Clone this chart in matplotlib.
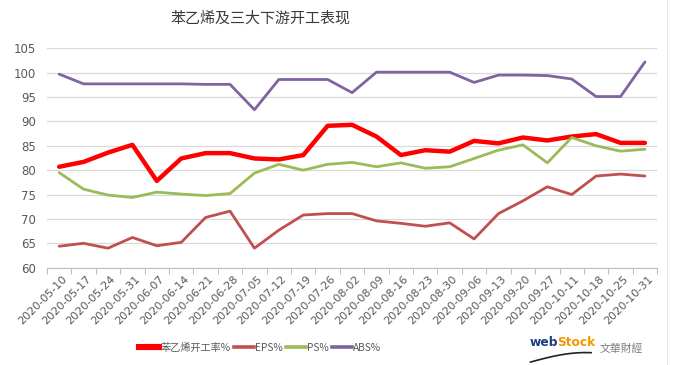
import matplotlib
matplotlib.use("Agg")
import matplotlib.pyplot as plt
from matplotlib.lines import Line2D
import numpy as np

plt.rcParams['font.family'] = ['Noto Sans CJK SC', 'DejaVu Sans']

dates = ["2020-05-10", "2020-05-17", "2020-05-24", "2020-05-31", "2020-06-07",
         "2020-06-14", "2020-06-21", "2020-06-28", "2020-07-05", "2020-07-12",
         "2020-07-19", "2020-07-26", "2020-08-02", "2020-08-09", "2020-08-16",
         "2020-08-23", "2020-08-30", "2020-09-06", "2020-09-13", "2020-09-20",
         "2020-09-27", "2020-10-11", "2020-10-18", "2020-10-25", "2020-10-31"]

styrene = [80.7, 81.7, 83.6, 85.2, 77.8, 82.4, 83.5, 83.5, 82.4, 82.2, 83.1, 89.1,
           89.3, 86.9, 83.1, 84.1, 83.8, 86.0, 85.5, 86.7, 86.1, 86.9, 87.4, 85.6, 85.6]
eps = [64.4, 65.0, 64.0, 66.2, 64.5, 65.2, 70.3, 71.6, 64.0, 67.7, 70.8, 71.1,
       71.1, 69.6, 69.1, 68.5, 69.2, 65.9, 71.1, 73.7, 76.6, 75.0, 78.8, 79.2, 78.8]
ps = [79.5, 76.1, 74.9, 74.4, 75.5, 75.1, 74.8, 75.2, 79.4, 81.2, 80.0, 81.2,
      81.6, 80.7, 81.5, 80.4, 80.7, 82.4, 84.1, 85.2, 81.5, 86.7, 85.0, 83.9, 84.3]
abs_ = [99.7, 97.7, 97.7, 97.7, 97.7, 97.7, 97.6, 97.6, 92.4, 98.6, 98.6, 98.6,
        95.9, 100.1, 100.1, 100.1, 100.1, 98.0, 99.5, 99.5, 99.4, 98.7, 95.1, 95.1, 102.2]

series_names = ["苯乙烯开工率%", "EPS%", "PS%", "ABS%"]
colors = ["#FF0000", "#C0504D", "#9BBB59", "#8064A2"]
widths = [3.2, 2.0, 2.0, 2.0]
yticks = [60, 65, 70, 75, 80, 85, 90, 95, 100, 105]
title = "苯乙烯及三大下游开工表现"

fig = plt.figure(figsize=(6.74, 3.65), dpi=100)
ax = fig.add_axes([0.0697, 0.2666, 0.9053, 0.6011])

x = np.arange(len(dates))
for vals, c, w, name in zip([styrene, eps, ps, abs_], colors, widths, series_names):
    ax.plot(x, vals, color=c, lw=w, label=name, solid_joinstyle='round',
            solid_capstyle='round', zorder=3)

ax.set_xlim(-0.5, len(dates) - 0.5)
ax.set_ylim(60, 105)
ax.set_yticks(yticks)
ax.set_yticklabels([str(t) for t in yticks], fontsize=8.5, color="#595959",
                   family=['DejaVu Sans'])
ax.yaxis.grid(True, color="#D9D9D9", lw=0.9)
ax.set_axisbelow(True)
ax.tick_params(axis='y', length=0, pad=8)

ax.set_xticks(np.arange(len(dates) + 1) - 0.5)
ax.set_xticklabels([])
ax.tick_params(axis='x', length=4, color="#BFBFBF", width=0.8)
for i, d in enumerate(dates):
    ax.text(i + 0.25, 58.1, d, rotation=45, rotation_mode='anchor', ha='right',
            va='center', fontsize=8, color="#595959", family=['DejaVu Sans'])

for s in ['top', 'right', 'left']:
    ax.spines[s].set_visible(False)
ax.spines['bottom'].set_color("#BFBFBF")
ax.spines['bottom'].set_linewidth(0.8)

fig.text(0.386, 0.950, title, ha='center', va='center', fontsize=10.8,
         color="#3A3A3A", fontweight='medium')

handles = [Line2D([0], [0], color=c, lw=w + (1.2 if i == 0 else 0.6))
           for i, (c, w) in enumerate(zip(colors, widths))]
leg = fig.legend(handles, series_names, loc='center', bbox_to_anchor=(0.386, 0.048),
                 ncol=4, frameon=False, fontsize=7.3, handlelength=2.0,
                 handletextpad=0.1, columnspacing=0.3, labelcolor="#595959")

# logo
fig.text(0.786, 0.062, "web", ha='left', va='center', fontsize=8.8, fontweight='bold',
         color="#1D3C7A", family=['DejaVu Sans'])
fig.text(0.826, 0.062, "Stock", ha='left', va='center', fontsize=8.8, fontweight='bold',
         color="#F39800", family=['DejaVu Sans'])
fig.text(0.889, 0.044, "文華財經", ha='left', va='center', fontsize=7.8,
         color="#7F7F7F", family=['Noto Sans CJK TC'])
t = np.linspace(0, 1, 50)
fig.add_artist(Line2D(0.787 + 0.09 * t, 0.008 + 0.026 * np.sin(t * np.pi * 0.55),
                      color="#222222", lw=1.2, transform=fig.transFigure))

# right edge artifact line
fig.add_artist(Line2D([0.989, 0.989], [0.0, 1.0], color="#E6E6E6", lw=0.8,
                      transform=fig.transFigure))

fig.savefig("out.png", dpi=100, facecolor="white")
